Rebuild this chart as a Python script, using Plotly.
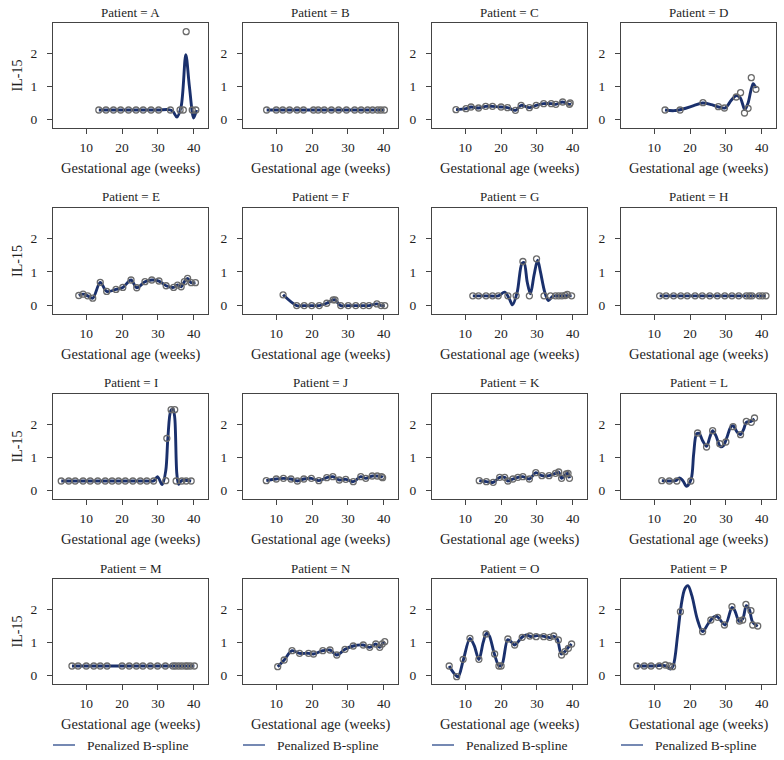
import plotly.graph_objects as go

patients = ["A", "B", "C", "D", "E", "F", "G", "H", "I", "J", "K", "L", "M", "N", "O", "P"]
x_ticks = [10, 20, 30, 40]
y_ticks = [0, 1, 2]

# observed IL-15 values (open circles)
wk_A = [13.5, 15.5, 17.6, 19.6, 21.8, 23.9, 25.9, 28.1, 30.2, 33.5, 36.2, 37.1, 37.9, 39.6, 40.6]
il_A = [0.29, 0.29, 0.29, 0.29, 0.29, 0.29, 0.29, 0.29, 0.29, 0.29, 0.29, 0.29, 2.64, 0.29, 0.29]
wk_B = [7.3, 10.0, 11.8, 13.7, 15.8, 17.6, 20.4, 21.7, 23.4, 25.4, 27.4, 29.6, 31.9, 33.7, 35.5, 36.9, 38.3, 39.2, 40.2]
il_B = [0.29, 0.29, 0.29, 0.29, 0.29, 0.29, 0.29, 0.29, 0.29, 0.29, 0.29, 0.29, 0.29, 0.29, 0.29, 0.29, 0.29, 0.29, 0.29]
wk_C = [7.4, 10.2, 11.6, 13.7, 15.7, 17.6, 20.0, 21.8, 24.0, 25.6, 27.9, 29.8, 31.9, 34.0, 35.3, 37.2, 39.1, 39.3]
il_C = [0.30, 0.33, 0.38, 0.35, 0.40, 0.40, 0.38, 0.36, 0.28, 0.43, 0.36, 0.43, 0.48, 0.48, 0.46, 0.53, 0.46, 0.50]
wk_D = [13.0, 17.2, 23.6, 27.9, 29.6, 32.9, 34.1, 35.2, 36.2, 37.1, 38.4]
il_D = [0.29, 0.29, 0.51, 0.39, 0.35, 0.68, 0.81, 0.20, 0.34, 1.26, 0.91]
wk_E = [7.9, 9.1, 10.4, 11.8, 13.9, 15.7, 18.3, 20.2, 22.5, 24.1, 26.4, 28.3, 30.3, 32.3, 34.4, 35.5, 36.5, 37.4, 38.3, 39.3, 40.5]
il_E = [0.30, 0.34, 0.29, 0.22, 0.69, 0.42, 0.48, 0.54, 0.76, 0.53, 0.71, 0.76, 0.73, 0.59, 0.54, 0.61, 0.56, 0.71, 0.81, 0.68, 0.68]
wk_F = [11.9, 15.7, 17.8, 19.9, 22.0, 24.1, 25.9, 26.4, 28.0, 30.1, 32.2, 34.3, 35.9, 38.1, 39.3, 40.3]
il_F = [0.32, 0.0, 0.0, 0.0, 0.0, 0.07, 0.17, 0.17, 0.0, 0.0, 0.0, 0.0, 0.0, 0.05, 0.0, 0.0]
wk_G = [12.1, 13.7, 15.8, 17.6, 19.2, 21.9, 24.2, 26.1, 27.9, 29.9, 32.0, 33.8, 35.2, 36.1, 37.0, 37.9, 38.5, 39.7]
il_G = [0.29, 0.29, 0.29, 0.29, 0.29, 0.29, 0.29, 1.31, 0.29, 1.39, 0.29, 0.29, 0.29, 0.29, 0.29, 0.30, 0.33, 0.29]
wk_H = [11.5, 13.3, 15.4, 17.4, 19.2, 21.4, 23.4, 25.5, 27.6, 29.7, 31.7, 33.6, 35.7, 36.6, 37.3, 39.3, 40.2, 41.2]
il_H = [0.29, 0.29, 0.29, 0.29, 0.29, 0.29, 0.29, 0.29, 0.29, 0.29, 0.29, 0.29, 0.29, 0.29, 0.29, 0.29, 0.29, 0.29]
wk_I = [3.0, 5.1, 6.9, 9.1, 11.1, 13.2, 15.3, 17.2, 19.0, 20.9, 23.0, 25.1, 26.9, 28.8, 32.2, 32.5, 33.7, 34.7, 35.1, 36.7, 37.9, 39.3]
il_I = [0.29, 0.29, 0.29, 0.29, 0.29, 0.29, 0.29, 0.29, 0.29, 0.29, 0.29, 0.29, 0.29, 0.29, 0.30, 1.57, 2.43, 2.43, 0.29, 0.29, 0.29, 0.29]
wk_J = [7.2, 10.0, 12.0, 14.1, 15.9, 17.7, 19.8, 21.9, 24.1, 25.8, 27.6, 29.4, 31.5, 33.6, 35.0, 36.8, 38.2, 39.4, 39.7]
il_J = [0.30, 0.35, 0.37, 0.35, 0.29, 0.35, 0.37, 0.30, 0.39, 0.42, 0.32, 0.34, 0.27, 0.42, 0.37, 0.44, 0.44, 0.42, 0.39]
wk_K = [13.9, 15.9, 17.8, 19.6, 21.0, 21.9, 23.3, 24.7, 26.1, 27.9, 29.7, 31.4, 33.4, 35.2, 36.1, 36.9, 38.2, 38.7, 39.1]
il_K = [0.30, 0.27, 0.25, 0.40, 0.40, 0.29, 0.35, 0.40, 0.42, 0.35, 0.54, 0.45, 0.45, 0.52, 0.56, 0.37, 0.50, 0.52, 0.37]
wk_L = [12.1, 14.2, 16.3, 20.2, 22.1, 24.6, 26.3, 28.3, 30.0, 32.0, 34.1, 35.7, 37.1, 38.0]
il_L = [0.30, 0.29, 0.29, 0.29, 1.73, 1.31, 1.80, 1.41, 1.46, 1.92, 1.68, 2.08, 2.05, 2.18]
wk_M = [6.0, 7.7, 10.0, 12.1, 13.9, 15.8, 20.0, 22.0, 24.0, 25.8, 27.9, 29.9, 32.1, 34.2, 34.9, 35.8, 36.7, 37.7, 38.3, 39.1, 40.2]
il_M = [0.29, 0.29, 0.29, 0.29, 0.29, 0.29, 0.29, 0.29, 0.29, 0.29, 0.29, 0.29, 0.29, 0.29, 0.29, 0.29, 0.29, 0.29, 0.29, 0.29, 0.29]
wk_N = [10.4, 12.2, 14.4, 16.5, 19.0, 20.4, 23.0, 25.0, 26.9, 29.2, 31.5, 34.3, 36.1, 37.8, 38.9, 39.6, 40.3]
il_N = [0.27, 0.47, 0.75, 0.67, 0.67, 0.65, 0.75, 0.77, 0.62, 0.79, 0.89, 0.92, 0.85, 0.95, 0.85, 0.95, 1.02]
wk_O = [5.5, 7.6, 9.4, 11.3, 13.8, 15.8, 18.2, 19.4, 20.0, 21.9, 23.8, 25.9, 28.0, 29.8, 31.9, 33.6, 34.7, 36.0, 36.9, 37.8, 38.8, 39.7]
il_O = [0.29, -0.03, 0.49, 1.12, 0.49, 1.25, 0.65, 0.29, 0.29, 1.10, 0.92, 1.15, 1.19, 1.17, 1.17, 1.15, 1.19, 1.07, 0.62, 0.72, 0.82, 0.95]
wk_P = [5.1, 7.2, 9.1, 11.4, 13.1, 14.2, 15.1, 17.3, 23.5, 25.8, 27.7, 29.6, 31.7, 33.8, 34.7, 35.6, 37.0, 37.5, 38.9]
il_P = [0.29, 0.29, 0.29, 0.29, 0.32, 0.29, 0.27, 1.92, 1.32, 1.67, 1.75, 1.52, 2.07, 1.64, 1.67, 2.14, 1.95, 1.52, 1.49]

# penalized B-spline curves (where they differ from the circles)
fit_wk_A = [13.5, 17.6, 21.8, 25.9, 30.2, 33.0, 34.2, 35.3, 36.5, 37.8, 38.8, 40.0, 40.8]
fit_il_A = [0.29, 0.29, 0.29, 0.29, 0.29, 0.30, 0.25, 0.08, 0.40, 1.95, 1.00, 0.05, 0.29]
fit_wk_D = [13.0, 15.5, 18.0, 21.0, 23.5, 26.0, 28.0, 29.8, 31.5, 32.9, 34.0, 35.3, 36.2, 37.6, 38.4]
fit_il_D = [0.29, 0.27, 0.32, 0.42, 0.50, 0.45, 0.38, 0.35, 0.58, 0.72, 0.66, 0.30, 0.50, 1.08, 0.95]
fit_wk_G = [12.1, 15.8, 19.2, 21.0, 22.3, 23.2, 24.5, 25.8, 26.4, 27.3, 28.2, 29.2, 30.2, 31.0, 32.2, 33.2, 34.5, 37.0, 39.7]
fit_il_G = [0.29, 0.29, 0.29, 0.40, 0.20, 0.02, 0.40, 1.25, 1.28, 0.70, 0.35, 0.90, 1.35, 1.00, 0.40, 0.15, 0.28, 0.29, 0.29]
fit_wk_I = [3.0, 9.1, 15.3, 21.0, 26.9, 28.8, 29.9, 31.2, 32.2, 32.8, 33.6, 34.2, 34.7, 35.3, 35.8, 36.6, 39.3]
fit_il_I = [0.29, 0.29, 0.29, 0.29, 0.29, 0.29, 0.42, 0.18, 0.60, 1.60, 2.40, 2.46, 2.20, 0.50, 0.19, 0.30, 0.29]
fit_wk_L = [12.1, 14.0, 16.0, 17.0, 18.0, 19.0, 20.3, 21.0, 21.8, 22.5, 23.5, 24.6, 25.5, 26.3, 27.2, 28.5, 29.3, 30.3, 31.3, 32.0, 33.0, 34.0, 35.0, 35.7, 37.0, 38.0]
fit_il_L = [0.30, 0.29, 0.30, 0.38, 0.30, 0.13, 0.35, 1.10, 1.70, 1.72, 1.50, 1.33, 1.60, 1.80, 1.65, 1.32, 1.35, 1.60, 1.90, 1.95, 1.78, 1.68, 1.85, 2.05, 2.08, 2.15]
fit_wk_O = [5.5, 7.0, 8.0, 9.4, 11.3, 12.5, 13.8, 15.0, 15.9, 16.7, 18.0, 19.4, 20.2, 21.8, 22.5, 23.8, 25.9, 27.0, 28.5, 30.0, 32.0, 33.6, 34.7, 35.7, 36.8, 37.8, 38.8, 39.7]
fit_il_O = [0.29, 0.05, -0.03, 0.45, 1.12, 0.90, 0.48, 1.00, 1.27, 1.20, 0.70, 0.30, 0.32, 1.08, 1.05, 0.92, 1.16, 1.22, 1.17, 1.20, 1.18, 1.14, 1.18, 1.10, 0.65, 0.72, 0.85, 0.95]
fit_wk_P = [5.1, 9.1, 13.0, 14.5, 15.3, 16.5, 17.5, 18.5, 19.4, 20.5, 22.0, 23.5, 25.0, 26.5, 27.5, 29.8, 31.7, 32.5, 33.7, 34.7, 35.7, 36.5, 37.5, 38.9]
fit_il_P = [0.29, 0.29, 0.30, 0.20, 0.30, 1.20, 2.10, 2.60, 2.70, 2.40, 1.70, 1.32, 1.55, 1.75, 1.78, 1.52, 2.05, 1.95, 1.63, 1.70, 2.10, 2.00, 1.60, 1.48]

obs = {
    "A": (wk_A, il_A), "B": (wk_B, il_B), "C": (wk_C, il_C), "D": (wk_D, il_D),
    "E": (wk_E, il_E), "F": (wk_F, il_F), "G": (wk_G, il_G), "H": (wk_H, il_H),
    "I": (wk_I, il_I), "J": (wk_J, il_J), "K": (wk_K, il_K), "L": (wk_L, il_L),
    "M": (wk_M, il_M), "N": (wk_N, il_N), "O": (wk_O, il_O), "P": (wk_P, il_P),
}
fits = {
    "A": (fit_wk_A, fit_il_A), "D": (fit_wk_D, fit_il_D), "G": (fit_wk_G, fit_il_G),
    "I": (fit_wk_I, fit_il_I), "L": (fit_wk_L, fit_il_L), "O": (fit_wk_O, fit_il_O),
    "P": (fit_wk_P, fit_il_P),
}

W, H = 784, 760
col_px = [(53, 208), (243, 398), (432, 587), (621, 776)]
row_px = [(23, 128), (208, 314), (394, 499), (579, 684)]

LINE = "#1a306c"
TXT = "#1e1e1e"
FONT = "Liberation Serif"

fig = go.Figure()
annotations = []
shapes = []

for i, p in enumerate(patients):
    r, c = divmod(i, 4)
    n = i + 1
    xa = "x" if n == 1 else f"x{n}"
    ya = "y" if n == 1 else f"y{n}"
    fx, fy = fits.get(p, obs[p])
    ox, oy = obs[p]
    fig.add_trace(go.Scatter(x=fx, y=fy, mode="lines", xaxis=xa, yaxis=ya,
                             line=dict(color=LINE, width=2.9, shape="spline", smoothing=0.9),
                             showlegend=False, hoverinfo="skip"))
    fig.add_trace(go.Scatter(x=ox, y=oy, mode="markers", xaxis=xa, yaxis=ya,
                             marker=dict(symbol="circle-open", size=6, color="#6b6b6b",
                                         line=dict(width=1.3, color="#6b6b6b")),
                             showlegend=False))
    x0, x1 = col_px[c]
    y0, y1 = row_px[r]
    dom_x = [x0 / W, x1 / W]
    dom_y = [1 - y1 / H, 1 - y0 / H]
    axkey_x = "xaxis" if n == 1 else f"xaxis{n}"
    axkey_y = "yaxis" if n == 1 else f"yaxis{n}"
    common = dict(showline=True, mirror=True, linecolor="#444444", linewidth=1,
                  ticks="outside", ticklen=5, tickwidth=1, tickcolor="#444444",
                  showgrid=False, zeroline=False,
                  tickfont=dict(family=FONT, size=13.5, color=TXT))
    fig.update_layout({
        axkey_x: dict(domain=dom_x, anchor=ya, range=[0.7, 44.0], tickvals=x_ticks,
                      ticklabelstandoff=2, **common),
        axkey_y: dict(domain=dom_y, anchor=xa, range=[-0.25, 2.9], tickvals=y_ticks,
                      ticklabelstandoff=7, **common),
    })
    cx = (x0 + x1) / 2 / W
    annotations.append(dict(text=f"Patient = {p}", x=cx, y=1 - (y0 - 11) / H,
                            xref="paper", yref="paper", showarrow=False,
                            font=dict(family=FONT, size=13, color=TXT),
                            xanchor="center", yanchor="middle"))
    annotations.append(dict(text="Gestational age (weeks)", x=cx, y=1 - (y1 + 40) / H,
                            xref="paper", yref="paper", showarrow=False,
                            font=dict(family=FONT, size=14.5, color=TXT),
                            xanchor="center", yanchor="middle"))
    if c == 0:
        annotations.append(dict(text="IL-15", x=17 / W, y=1 - (y0 + y1) / 2 / H,
                                xref="paper", yref="paper", showarrow=False, textangle=-90,
                                font=dict(family=FONT, size=14, color=TXT),
                                xanchor="center", yanchor="middle"))

# legend entries under each column
for c in range(4):
    x0 = col_px[c][0]
    ly = 1 - 745 / H
    shapes.append(dict(type="line", xref="paper", yref="paper",
                       x0=x0 / W, x1=(x0 + 22) / W, y0=ly, y1=ly,
                       line=dict(color="#2b4a8a", width=1.3)))
    annotations.append(dict(text="Penalized B-spline", x=(x0 + 32) / W, y=ly,
                            xref="paper", yref="paper", showarrow=False,
                            font=dict(family=FONT, size=13.5, color=TXT),
                            xanchor="left", yanchor="middle"))

fig.update_layout(width=W, height=H, margin=dict(l=0, r=0, t=0, b=0),
                  paper_bgcolor="white", plot_bgcolor="white",
                  annotations=annotations, shapes=shapes, showlegend=False)

fig.write_html("out.html", config={"displayModeBar": False},
               post_script="document.body.style.margin='0px';document.body.style.overflow='hidden';")
